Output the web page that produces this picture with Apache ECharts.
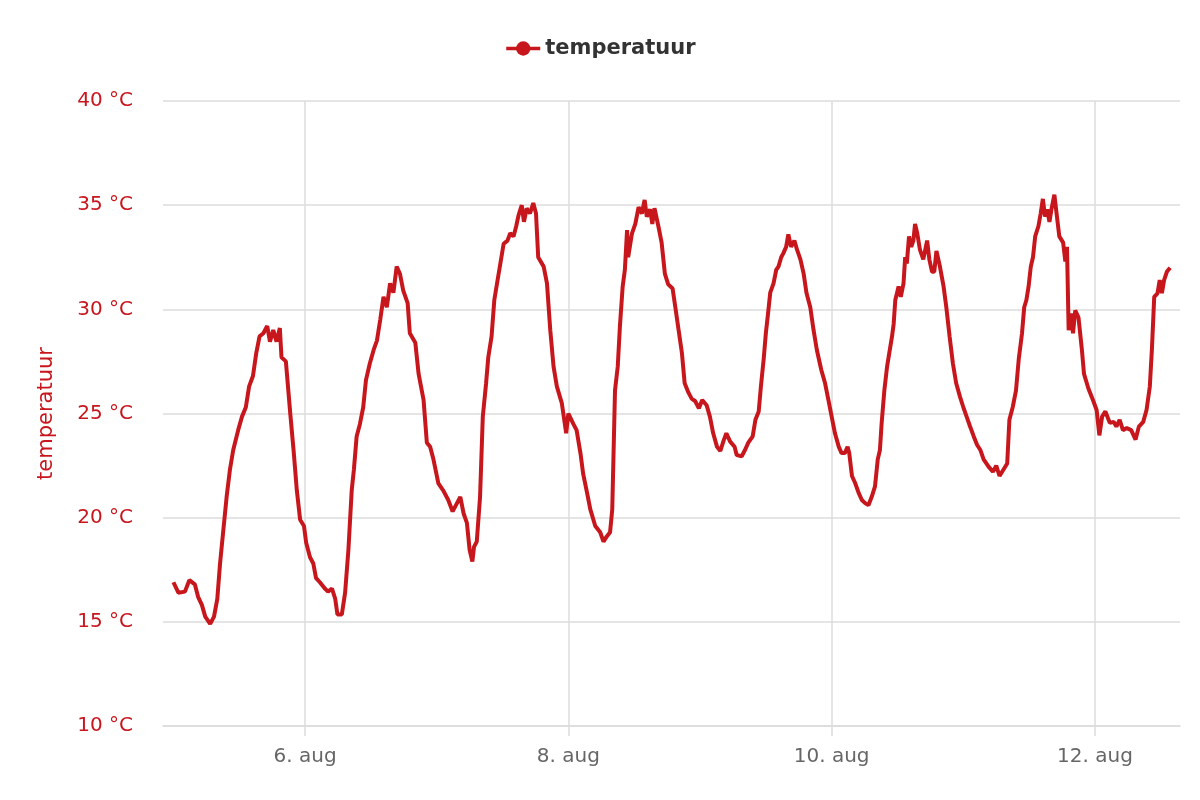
<!DOCTYPE html>
<html>
<head>
<meta charset="utf-8">
<title>temperatuur</title>
<script src="https://cdn.jsdelivr.net/npm/echarts@6/dist/echarts.min.js"></script>
<style>
  html, body { margin: 0; padding: 0; background: #fff; }
  #main { width: 1200px; height: 800px; }
</style>
</head>
<body>
<div id="main"></div>
<script>
// hours since 5 aug 00:00
var hours = [
  0, 0.9, 2.1, 2.9, 3.9, 4.5, 5.2, 5.8, 6.7, 7.4,
  8.0, 8.5, 9.1, 9.7, 10.3, 10.9, 11.8, 12.5, 13.2, 13.8,
  14.5, 15.1, 15.7, 16.4, 17.1, 17.6, 18.2, 18.8, 19.4, 19.7,
  20.5, 21.3, 21.9, 22.5, 23.1, 23.8, 24.2, 24.9, 25.5, 26.0,
  26.7, 27.6, 28.2, 28.9, 29.5, 29.9, 30.7, 31.3, 31.9, 32.5,
  32.9, 33.4, 34.0, 34.6, 35.1, 35.8, 36.5, 37.1, 37.7, 38.3,
  38.9, 39.5, 40.1, 40.7, 41.3, 41.9, 42.7, 43.1, 44.1, 44.7,
  45.6, 46.2, 46.8, 47.4, 48.3, 49.2, 50.1, 50.9, 51.7, 52.3,
  52.9, 53.5, 54.0, 54.5, 54.8, 55.3, 55.9, 56.4, 57.0, 57.4,
  58.0, 58.5, 59.0, 59.6, 60.2, 60.9, 61.4, 62.0, 62.5, 62.9,
  63.5, 63.9, 64.4, 65.0, 65.6, 66.1, 66.5, 67.5, 68.1, 68.7,
  69.3, 69.9, 70.8, 71.6, 72.0, 72.9, 73.5, 74.2, 74.7, 75.4,
  76.0, 76.9, 77.8, 78.4, 79.0, 79.6, 80.0, 80.5, 81.0, 81.4,
  81.9, 82.3, 82.7, 82.9, 83.6, 84.2, 84.8, 85.4, 85.9, 86.3,
  86.9, 87.3, 87.7, 88.4, 89.0, 89.6, 90.2, 91.0, 91.5, 92.1,
  92.7, 93.2, 93.9, 94.5, 95.1, 95.8, 96.4, 97.2, 97.8, 98.4,
  99.1, 99.7, 100.3, 100.8, 101.5, 102.3, 102.7, 103.6, 104.2, 104.8,
  105.6, 106.1, 106.7, 107.1, 107.6, 108.0, 108.4, 108.8, 109.4, 109.9,
  110.3, 110.8, 111.2, 111.7, 112.1, 112.6, 113.2, 113.7, 114.3, 114.9,
  115.4, 116.1, 116.7, 117.3, 118.1, 118.8, 119.4, 120.0, 120.6, 121.3,
  121.8, 122.4, 122.9, 123.2, 123.7, 124.3, 124.9, 125.5, 126.1, 126.7,
  127.3, 127.9, 128.4, 128.8, 129.1, 129.6, 130.1, 130.5, 131.0, 131.3,
  131.6, 132.2, 132.6, 133.1, 133.4, 133.7, 134.1, 134.5, 134.9, 135.2,
  135.6, 136.1, 136.7, 137.4, 137.8, 138.3, 138.7, 139.1, 139.7, 140.4,
  140.9, 141.5, 142.1, 142.7, 143.4, 144.0, 144.6, 145.2, 145.9, 146.5,
  147.1, 147.7, 148.6, 149.4, 150.0, 150.6, 151.3, 152.0, 152.4, 153.0,
  153.6, 154.1, 154.7, 155.1, 155.5, 155.9, 156.3, 156.7, 157.1, 157.7,
  158.1, 158.5, 158.9, 159.3, 159.7, 160.1, 160.6, 161.0, 161.5, 162.2,
  162.6, 162.9, 163.2, 163.6, 164.0, 164.4, 165.0, 165.6, 166.0, 166.8,
  167.7, 168.3, 168.8, 169.3, 169.9, 170.7, 171.4, 171.9, 172.5, 173.1,
  173.8, 174.6, 175.4, 176.0, 176.8, 177.4, 178.0, 178.4, 178.8, 179.4,
  179.8, 180.2, 180.6, 181.1, 181.7
];

var temps = [
  16.9, 16.4, 16.45, 17.0, 16.8, 16.2, 15.8, 15.25, 14.9, 15.25,
  16.1, 17.8, 19.4, 21.0, 22.3, 23.25, 24.2, 24.85, 25.3, 26.3,
  26.8, 27.9, 28.7, 28.85, 29.2, 28.45, 29.0, 28.45, 29.1, 27.7,
  27.5, 25.0, 23.25, 21.3, 19.9, 19.6, 18.8, 18.1, 17.8, 17.1,
  16.9, 16.6, 16.45, 16.6, 16.1, 15.35, 15.35, 16.4, 18.45, 21.3,
  22.3, 23.9, 24.5, 25.3, 26.6, 27.4, 28.05, 28.5, 29.5, 30.6,
  30.1, 31.25, 30.8, 32.05, 31.7, 30.9, 30.3, 28.85, 28.4, 26.9,
  25.65, 23.6, 23.4, 22.8, 21.65, 21.3, 20.85, 20.3, 20.7, 21.0,
  20.2, 19.75, 18.45, 17.9, 18.6, 18.85, 21.0, 24.85, 26.45, 27.7,
  28.7, 30.45, 31.25, 32.2, 33.15, 33.3, 33.65, 33.5, 34.0, 34.5,
  35.0, 34.2, 34.85, 34.6, 35.1, 34.6, 32.5, 32.05, 31.25, 29.0,
  27.25, 26.3, 25.5, 24.05, 25.0, 24.5, 24.2, 23.1, 22.1, 21.2,
  20.4, 19.6, 19.3, 18.85, 19.1, 19.3, 20.4, 26.1, 27.25, 29.2,
  31.1, 31.9, 33.8, 32.5, 33.65, 34.1, 34.9, 34.6, 35.25, 34.45,
  34.8, 34.1, 34.85, 34.0, 33.2, 31.7, 31.2, 31.0, 30.1, 29.0,
  27.9, 26.45, 26.0, 25.7, 25.6, 25.25, 25.65, 25.4, 24.85, 24.05,
  23.4, 23.2, 23.7, 24.05, 23.65, 23.4, 23.0, 22.95, 23.25, 23.6,
  23.9, 24.7, 25.1, 26.3, 27.6, 28.85, 29.8, 30.8, 31.25, 31.9,
  32.05, 32.5, 32.7, 33.0, 33.6, 33.0, 33.3, 32.85, 32.4, 31.7,
  30.8, 30.1, 29.0, 28.05, 27.1, 26.45, 25.65, 24.85, 24.05, 23.4,
  23.1, 23.1, 23.4, 23.1, 22.0, 21.65, 21.2, 20.85, 20.7, 20.6,
  21.0, 21.5, 22.8, 23.25, 24.5, 26.1, 27.25, 27.9, 28.7, 29.3,
  30.45, 31.1, 30.6, 31.25, 32.5, 32.2, 33.5, 33.0, 33.3, 34.1,
  33.65, 32.85, 32.4, 33.3, 32.4, 31.8, 31.8, 32.8, 32.1, 31.1,
  30.1, 28.7, 27.4, 26.45, 25.8, 25.3, 24.85, 24.4, 23.9, 23.5,
  23.25, 22.8, 22.45, 22.2, 22.5, 22.0, 22.3, 22.6, 24.7, 25.3,
  26.1, 27.6, 28.85, 30.1, 30.45, 31.1, 32.05, 32.5, 33.5, 34.0,
  34.6, 35.3, 34.45, 34.8, 34.2, 34.85, 35.5, 34.6, 33.5, 33.2,
  32.3, 33.0, 29.0, 29.8, 28.85, 29.95, 29.6, 28.1, 26.9, 26.2,
  25.6, 25.17, 23.95, 24.85, 25.1, 24.55, 24.6, 24.37, 24.7, 24.2,
  24.3, 24.2, 23.75, 24.37, 24.6, 25.17, 26.3, 28.2, 30.6, 30.77,
  31.4, 30.77, 31.4, 31.8, 32.0
];

var firstDay = 5;              // 5 aug = hour 0
var tickDays = [6, 8, 10, 12];
var yTicks = [10, 15, 20, 25, 30, 35, 40];

var data = hours.map(function (h, i) { return [h, temps[i]]; });
var tickValues = tickDays.map(function (d) { return (d - firstDay) * 24; });

var red = '#c8161d';
var grey = '#dcdcdc';
var font = 'DejaVu Sans';

var chartDom = document.getElementById('main');
var myChart = echarts.init(chartDom);
var option;

option = {
  backgroundColor: '#fff',
  animation: false,
  textStyle: { fontFamily: font },
  legend: {
    top: 33,
    left: 'center',
    itemWidth: 34,
    itemHeight: 18,
    itemGap: 10,
    lineStyle: { width: 3.5 },
    textStyle: { fontSize: 21, fontWeight: 'bold', color: '#333', fontFamily: font },
    data: ['temperatuur']
  },
  grid: { left: 163, right: 20, top: 101, bottom: 74, containLabel: false },
  xAxis: {
    type: 'value',
    min: -1.9,
    max: 183.5,
    axisLine: { show: true, lineStyle: { color: grey, width: 1.5 } },
    axisTick: { show: true, length: 10, customValues: tickValues, lineStyle: { color: grey, width: 1.5 } },
    splitLine: { show: true, lineStyle: { color: grey, width: 1.5 } },
    axisLabel: {
      customValues: tickValues,
      color: '#666',
      fontSize: 20,
      margin: 21,
      fontFamily: font,
      formatter: function (v) { return Math.round(firstDay + v / 24) + '. aug'; }
    }
  },
  yAxis: {
    type: 'value',
    min: yTicks[0],
    max: yTicks[yTicks.length - 1],
    interval: 5,
    name: 'temperatuur',
    nameLocation: 'middle',
    nameGap: 106,
    nameTextStyle: { color: red, fontSize: 21, fontFamily: font },
    axisLine: { show: false },
    axisTick: { show: false },
    splitLine: { show: true, lineStyle: { color: grey, width: 1.5 } },
    axisLabel: {
      color: red,
      fontSize: 20,
      margin: 30,
      fontFamily: font,
      formatter: '{value} °C'
    }
  },
  series: [
    {
      name: 'temperatuur',
      type: 'line',
      data: data,
      symbol: 'circle',
      symbolSize: 14,
      showSymbol: false,
      itemStyle: { color: red },
      lineStyle: { color: red, width: 4 },
      emphasis: { disabled: true }
    }
  ]
};

option && myChart.setOption(option);
</script>
</body>
</html>
